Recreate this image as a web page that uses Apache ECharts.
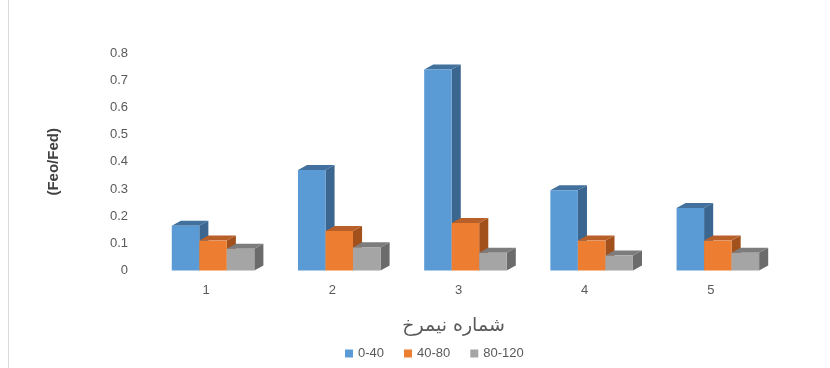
<!DOCTYPE html>
<html>
<head>
<meta charset="utf-8">
<script src="https://cdn.jsdelivr.net/npm/echarts@6/dist/echarts.min.js"></script>
<style>
  html, body { margin: 0; padding: 0; background: #fff; }
  #chart { width: 830px; height: 368px; }
</style>
</head>
<body>
<div id="chart"></div>
<script>
// Profile numbers and Feo/Fed ratio per depth interval
const categories = ['1', '2', '3', '4', '5'];
const seriesNames = ['0-40', '40-80', '80-120'];
const depth0to40 = [0.165, 0.37, 0.74, 0.295, 0.23];
const depth40to80 = [0.11, 0.145, 0.175, 0.11, 0.11];
const depth80to120 = [0.08, 0.085, 0.065, 0.055, 0.065];
const yTicks = { min: 0, max: 0.8, interval: 0.1 };

const seriesValues = [depth0to40, depth40to80, depth80to120];
// front, top, side shades for each series
const palette = [
  { front: '#5B9BD5', top: '#41719C', side: '#3A6690' },
  { front: '#ED7D31', top: '#B9602A', side: '#A2501C' },
  { front: '#A5A5A5', top: '#7C7C7C', side: '#6B6B6B' }
];

// Draws one pseudo-3D bar (front face, top, right side) from the axis scales
function makeRenderer(idx) {
  return function (params, api) {
    const cat = api.value(0);
    const val = api.value(1);
    const base = api.coord([cat, 0]);
    const top = api.coord([cat, val]);
    const bw = api.size([1, 0])[0];
    const w = bw * 0.218;
    const x0 = base[0] - bw * 0.272 + idx * w;
    const x1 = x0 + w;
    const dx = bw * 0.072;
    const dy = bw * 0.04;
    const yb = base[1];
    const yt = top[1];
    const c = palette[idx];
    return {
      type: 'group',
      children: [
        { type: 'polygon', shape: { points: [[x1, yt], [x1 + dx, yt - dy], [x1 + dx, yb - dy], [x1, yb]] },
          style: { fill: c.side } },
        { type: 'polygon', shape: { points: [[x0, yt], [x0 + dx, yt - dy], [x1 + dx, yt - dy], [x1, yt]] },
          style: { fill: c.top } },
        { type: 'rect', shape: { x: x0, y: yt, width: w, height: yb - yt },
          style: { fill: c.front } }
      ]
    };
  };
}

const chart = echarts.init(document.getElementById('chart'), null, { renderer: 'canvas' });
chart.setOption({
  backgroundColor: '#fff',
  animation: false,
  textStyle: { fontFamily: 'Liberation Sans, DejaVu Sans, sans-serif' },
  grid: { left: 143, right: 56, top: 53.2, bottom: 97.5 },
  legend: {
    data: seriesNames,
    bottom: 3,
    left: 340,
    icon: 'rect',
    itemWidth: 8,
    itemHeight: 8,
    itemGap: 20,
    textStyle: { color: '#595959', fontSize: 13 }
  },
  xAxis: {
    type: 'category',
    data: categories,
    name: 'شماره نیمرخ',
    nameLocation: 'middle',
    nameGap: 46,
    nameTextStyle: { fontSize: 19, color: '#595959', fontFamily: 'DejaVu Sans, sans-serif', padding: [0, 10, 0, 0] },
    axisLine: { show: false },
    axisTick: { show: false },
    axisLabel: { color: '#595959', fontSize: 13, margin: 13 },
    splitLine: { show: false }
  },
  yAxis: {
    type: 'value',
    min: yTicks.min,
    max: yTicks.max,
    interval: yTicks.interval,
    name: '(Feo/Fed)',
    nameLocation: 'middle',
    nameRotate: 90,
    nameGap: 82,
    nameTextStyle: { fontSize: 15, fontWeight: 'bold', color: '#404040' },
    axisLine: { show: false },
    axisTick: { show: false },
    splitLine: { show: false },
    axisLabel: { color: '#595959', fontSize: 13, margin: 15, padding: [4, 0, 0, 0],
      formatter: v => (Math.round(v * 10) / 10).toString() }
  },
  graphic: [
    { type: 'line', shape: { x1: 8.5, y1: 0, x2: 8.5, y2: 368 }, style: { stroke: '#d9d9d9', lineWidth: 1 } }
  ],
  series: seriesNames.map((name, i) => ({
    name: name,
    type: 'custom',
    renderItem: makeRenderer(i),
    itemStyle: { color: palette[i].front },
    encode: { x: 0, y: 1 },
    data: seriesValues[i].map((v, k) => [k, v])
  }))
});
</script>
</body>
</html>
